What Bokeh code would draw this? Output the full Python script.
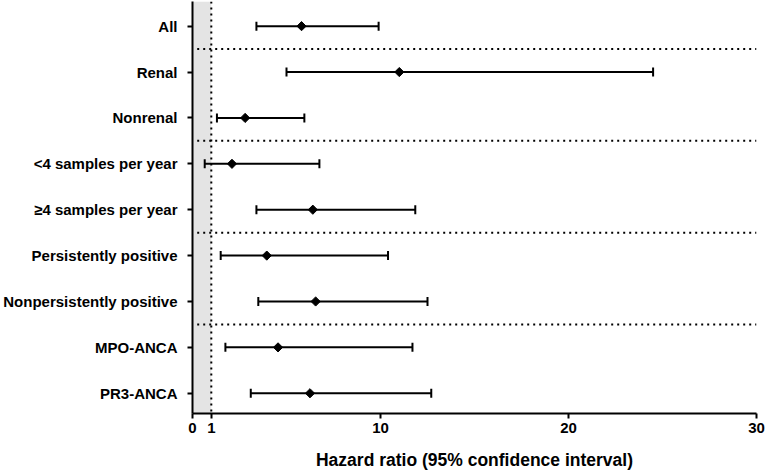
import numpy as np
from bokeh.plotting import figure
from bokeh.models import Range1d, FixedTicker, BoxAnnotation, Span, ColumnDataSource
from bokeh.embed import file_html
from bokeh.resources import INLINE

# ---- data ----
categories = ["All", "Renal", "Nonrenal", "<4 samples per year", "\u22654 samples per year",
              "Persistently positive", "Nonpersistently positive", "MPO-ANCA", "PR3-ANCA"]
hazard_ratio = [5.8, 11.0, 2.8, 2.1, 6.4, 3.95, 6.55, 4.55, 6.25]
ci_lower = [3.4, 5.0, 1.3, 0.65, 3.4, 1.5, 3.5, 1.75, 3.1]
ci_upper = [9.9, 24.5, 5.95, 6.75, 11.85, 10.4, 12.5, 11.7, 12.7]
group_dividers = [0.5, 2.5, 4.5, 6.5]
x_ticks = [0, 1, 10, 20, 30]
reference_hr = 1

rows = list(range(len(categories)))
src = ColumnDataSource(dict(row=rows, hr=hazard_ratio, lo=ci_lower, hi=ci_upper))

FONT = "Liberation Sans"

p = figure(width=766, height=472, output_backend="svg", toolbar_location=None,
           x_range=Range1d(0, 30), y_range=Range1d(8.441, -0.537),
           min_border_left=189, min_border_right=10, min_border_top=1, min_border_bottom=58)
p.outline_line_color = None
p.xgrid.visible = False
p.ygrid.visible = False
p.background_fill_color = "white"

# shaded region 0..1 and dotted reference line
p.add_layout(BoxAnnotation(left=0, right=reference_hr, fill_color="#e4e4e4", fill_alpha=1.0,
                           line_color=None, level="underlay"))
p.add_layout(Span(location=reference_hr, dimension="height", line_color="black",
                  line_width=2, line_dash="2 4"))

# group dividers
p.segment(x0=[0.25] * len(group_dividers), y0=group_dividers,
          x1=[30] * len(group_dividers), y1=group_dividers,
          line_color="black", line_width=2, line_dash="2 4")

# confidence intervals
p.segment(x0="lo", y0="row", x1="hi", y1="row", source=src, line_color="black", line_width=2)
p.scatter(x="lo", y="row", source=src, marker="dash", angle=np.pi / 2, size=9,
          line_color="black", line_width=2)
p.scatter(x="hi", y="row", source=src, marker="dash", angle=np.pi / 2, size=9,
          line_color="black", line_width=2)
# point estimates
p.scatter(x="hr", y="row", source=src, marker="square", angle=np.pi / 4, size=6.5,
          fill_color="black", line_color="black")

# y axis
p.yaxis.ticker = FixedTicker(ticks=rows)
p.yaxis.major_label_overrides = {i: c for i, c in zip(rows, categories)}
p.yaxis.major_label_text_font = FONT
p.yaxis.major_label_text_font_style = "bold"
p.yaxis.major_label_text_font_size = "15px"
p.yaxis.major_label_text_color = "black"
p.yaxis.major_label_standoff = 10
p.yaxis.minor_tick_line_color = None

# x axis
p.xaxis.ticker = FixedTicker(ticks=x_ticks)
p.xaxis.major_label_text_font = FONT
p.xaxis.major_label_text_font_style = "bold"
p.xaxis.major_label_text_font_size = "15px"
p.xaxis.major_label_text_color = "black"
p.xaxis.major_label_standoff = 4
p.xaxis.minor_tick_line_color = None
p.xaxis.axis_label = "Hazard ratio (95% confidence interval)"
p.xaxis.axis_label_text_font = FONT
p.xaxis.axis_label_text_font_style = "bold"
p.xaxis.axis_label_text_font_size = "17.5px"
p.xaxis.axis_label_text_color = "black"
p.xaxis.axis_label_standoff = 14

for ax in (p.xaxis, p.yaxis):
    ax.axis_line_color = "black"
    ax.axis_line_width = 2
    ax.major_tick_line_color = "black"
    ax.major_tick_line_width = 2
    ax.major_tick_out = 5
    ax.major_tick_in = 0

open("out.html", "w").write(file_html(p, INLINE))
